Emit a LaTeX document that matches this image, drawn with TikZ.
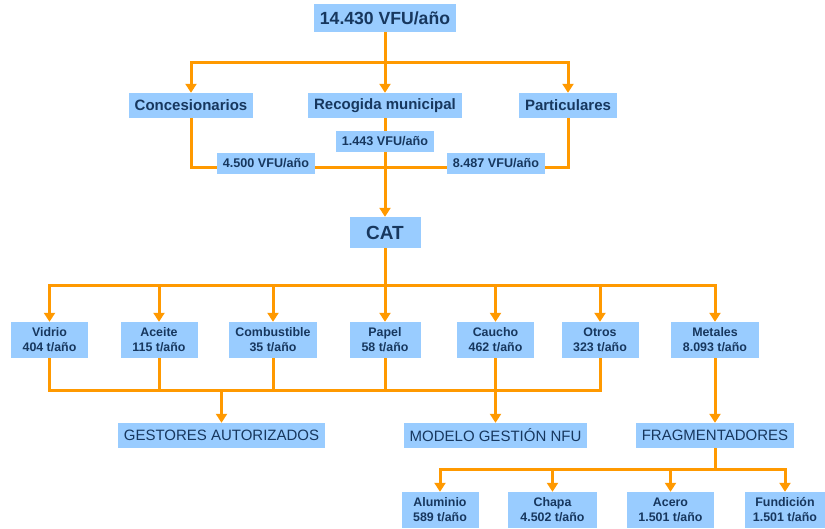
\documentclass[tikz,border=0pt]{standalone}
\usepackage{fontspec}
\setmainfont{Liberation Sans}
\usetikzlibrary{arrows.meta,backgrounds}
\definecolor{azulcaja}{HTML}{99CCFF}
\definecolor{azultexto}{HTML}{17375E}
\definecolor{naranja}{HTML}{FF9900}
\tikzset{
	caja/.style={fill=azulcaja,text=azultexto,inner xsep=6pt,inner ysep=0pt,minimum height=25pt},
	titulo/.style={caja,font=\bfseries\fontsize{17.6}{20}\selectfont,minimum height=28pt},
	origen/.style={caja,font=\bfseries\fontsize{15}{18}\selectfont},
	cifra/.style={caja,font=\bfseries\fontsize{12.6}{15}\selectfont,minimum height=21pt,minimum width=97pt},
	material/.style={caja,font=\bfseries\fontsize{12.4}{15}\selectfont,align=center,minimum height=36pt,minimum width=77pt},
	destino/.style={caja,font=\fontsize{15}{18}\selectfont},
	linea/.style={draw=naranja,line width=3pt},
	flecha/.style={linea,-{Triangle[width=11pt,length=9pt]}}
}

\begin{document}
\begin{tikzpicture}[x=1pt,y=-1pt]
	\useasboundingbox (0,0) rectangle (825,528);
	% origen de los VFU
	\node[titulo] (total) at (385,18) {14.430 VFU/año};
	\node[origen] (conces) at (191,105.5) {Concesionarios};
	\node[origen] (recogida) at (385,105.5) {Recogida municipal};
	\node[origen] (partic) at (568,105.5) {Particulares};
	\node[cifra] (c-recogida) at (385,141.5) {1.443 VFU/año};
	\node[cifra] (c-conces) at (266,163.5) {4.500 VFU/año};
	\node[cifra] (c-partic) at (496,163.5) {8.487 VFU/año};
	\node[caja,font=\bfseries\fontsize{19}{22}\selectfont,minimum height=31pt,minimum width=71pt] (cat) at (385,232.5) {CAT};
	% materiales
	\node[material] (vidrio) at (49.5,340) {Vidrio\\404 t/año};
	\node[material] (aceite) at (159,340) {Aceite\\115 t/año};
	\node[material] (combustible) at (273,340) {Combustible\\35 t/año};
	\node[material,minimum width=71pt] (papel) at (385,340) {Papel\\58 t/año};
	\node[material] (caucho) at (495.5,340) {Caucho\\462 t/año};
	\node[material] (otros) at (600,340) {Otros\\323 t/año};
	\node[material,minimum width=88pt] (metales) at (715,340) {Metales\\8.093 t/año};
	% destinos
	\node[destino] (gestores) at (221.5,435.5) {GESTORES AUTORIZADOS};
	\node[destino] (modelo) at (495.5,435.5) {MODELO GESTIÓN NFU};
	\node[destino] (fragm) at (715,435.5) {FRAGMENTADORES};
	\node[material] (aluminio) at (440,510) {Aluminio\\589 t/año};
	\node[material,minimum width=89pt] (chapa) at (552.5,510) {Chapa\\4.502 t/año};
	\node[material,minimum width=87pt] (acero) at (670.5,510) {Acero\\1.501 t/año};
	\node[material,minimum width=80pt] (fundicion) at (785,510) {Fundición\\1.501 t/año};

	\begin{scope}[on background layer]
		\coordinate (r1) at (385,62);
		\draw[linea] (total) -- (r1);
		\draw[flecha] (r1) -| (conces);
		\draw[flecha] (r1) -- (recogida);
		\draw[flecha] (r1) -| (partic);
		\coordinate (r2) at (385,167);
		\draw[linea] (conces) |- (r2) -| (partic);
		\draw[flecha] (recogida) -- (cat);
		% reparto en el CAT
		\coordinate (r3) at (385,285);
		\draw[linea] (cat) -- (r3);
		\foreach \m in {vidrio,aceite,combustible,papel,caucho,otros,metales}
			\draw[flecha] (r3) -| (\m);
		\coordinate (r4) at (221.5,390);
		\draw[linea] (vidrio) |- (r4) -| (otros);
		\foreach \m in {aceite,combustible,papel}
			\draw[linea] (\m) -- (\m |- r4);
		\draw[flecha] (r4) -- (gestores);
		\draw[flecha] (caucho) -- (modelo);
		\draw[flecha] (metales) -- (fragm);
		% metales
		\coordinate (r5) at (715,469);
		\draw[linea] (fragm) -- (r5);
		\foreach \m in {aluminio,chapa,acero,fundicion}
			\draw[flecha] (r5) -| (\m);
	\end{scope}
\end{tikzpicture}
\end{document}
